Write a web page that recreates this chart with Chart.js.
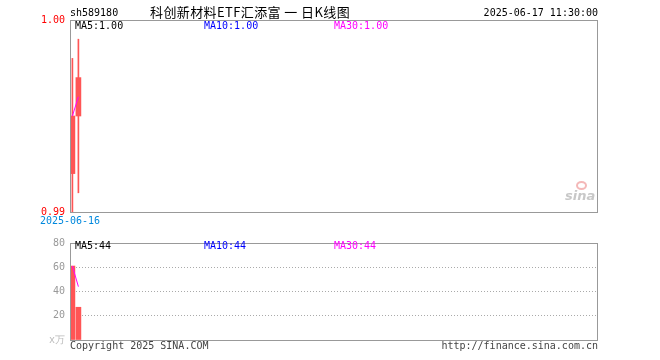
<!DOCTYPE html>
<html><head><meta charset="utf-8">
<script src="https://cdn.jsdelivr.net/npm/chart.js@4/dist/chart.umd.min.js"></script>
<style>
html,body{margin:0;padding:0;background:#fff;width:660px;height:360px;overflow:hidden;}
#wrap{position:relative;width:660px;height:360px;}
canvas{position:absolute;left:0;}
.t{position:absolute;font-family:"DejaVu Sans Mono",monospace;font-size:10px;line-height:12px;white-space:nowrap;}
.cjk{font-family:"Noto Sans CJK SC","DejaVu Sans",sans-serif;font-size:13px;line-height:14px;letter-spacing:0.4px;}
</style></head>
<body><div id="wrap">
<canvas id="c1" width="660" height="232" style="top:0"></canvas>
<canvas id="c2" width="660" height="128" style="top:232px"></canvas>
</div>
<script>
// ---- data ----
const symbol = "sh589180";
const title = "科创新材料ETF汇添富 一 日K线图";
const stamp = "2025-06-17 11:30:00";
const dates = ["2025-06-16", "2025-06-17"];
const opens  = [0.992, 0.995];
const closes = [0.995, 0.997];
const highs  = [0.998, 0.999];
const lows   = [0.990, 0.991];
const volumes = [61, 27];           // 万
const priceMA5 = [0.995, 0.996];
const volMA5 = [61, 44];
const priceTicks = [0.99, 1.00];
const volTicks = [0, 20, 40, 60, 80];
const maPriceLabels = ["MA5:1.00", "MA10:1.00", "MA30:1.00"];
const maVolLabels = ["MA5:44", "MA10:44", "MA30:44"];
const slots = 88;

const RED = "#ff5555";
const MONO = '"DejaVu Sans Mono", monospace';

const borderPlugin = {
  id: 'box',
  afterDraw(chart) {
    const a = chart.chartArea, ctx = chart.ctx;
    ctx.save();
    ctx.strokeStyle = '#999';
    ctx.lineWidth = 1;
    ctx.strokeRect(Math.round(a.left) + 0.5, Math.round(a.top) + 0.5,
                   Math.round(a.right - a.left) - 1, Math.round(a.bottom - a.top));
    ctx.restore();
  }
};

const xScaleBase = {
  type: 'linear', min: -0.4, max: slots - 0.4, offset: false,
  grid: { display: false, drawTicks: false }, border: { display: false }
};

// price chart
new Chart(document.getElementById('c1'), {
  type: 'bar',
  data: {
    datasets: [
      { type: 'line', data: priceMA5.map((v, i) => ({ x: i, y: v })), borderColor: '#ff00ff',
        borderWidth: 1, pointRadius: 0, order: 0 },
      { data: dates.map((d, i) => ({ x: i, y: [opens[i], closes[i]] })), backgroundColor: RED,
        barThickness: 5, grouped: false, order: 2 },
      { data: dates.map((d, i) => ({ x: i, y: [lows[i], highs[i]] })), backgroundColor: RED,
        barThickness: 1, grouped: false, order: 3 }
    ]
  },
  options: {
    responsive: false, animation: false,
    layout: { padding: { top: 20, right: 62, left: 0, bottom: 0 } },
    plugins: { legend: { display: false }, tooltip: { enabled: false } },
    scales: {
      x: Object.assign({}, xScaleBase, {
        afterBuildTicks(s) { s.ticks = [{ value: s.min }]; },
        afterFit(s) { s.height = 20; },
        ticks: { color: '#0088dd', font: { family: MONO, size: 10 }, padding: 3, maxRotation: 0,
                 callback: () => dates[0] }
      }),
      y: {
        min: priceTicks[0], max: priceTicks[priceTicks.length - 1],
        afterBuildTicks(s) { s.ticks = priceTicks.map(v => ({ value: v })); },
        afterFit(s) { s.width = 70; },
        grid: { display: false, drawTicks: false }, border: { display: false },
        ticks: { color: '#ff0000', font: { family: MONO, size: 10 }, padding: 5,
                 callback: v => Number(v).toFixed(2) }
      }
    }
  },
  plugins: [borderPlugin]
});

// volume chart
new Chart(document.getElementById('c2'), {
  type: 'bar',
  data: {
    datasets: [
      { type: 'line', data: volMA5.map((v, i) => ({ x: i, y: v })), borderColor: '#ff00ff',
        borderWidth: 1, pointRadius: 0, order: 0 },
      { data: volumes.map((v, i) => ({ x: i, y: v })), backgroundColor: RED,
        barThickness: 5, grouped: false, order: 2 }
    ]
  },
  options: {
    responsive: false, animation: false,
    layout: { padding: { top: 8, right: 62, left: 0, bottom: 20 } },
    plugins: { legend: { display: false }, tooltip: { enabled: false } },
    scales: {
      x: Object.assign({}, xScaleBase, { display: false }),
      y: {
        min: 0, max: 80,
        afterBuildTicks(s) { s.ticks = volTicks.map(v => ({ value: v })); },
        afterFit(s) { s.width = 70; },
        grid: { drawTicks: false,
                color: c => (c.tick && (c.tick.value === 0 || c.tick.value === 80)) ? 'rgba(0,0,0,0)' : '#aaa' },
        border: { display: false, dash: [1, 2] },
        ticks: { font: { family: MONO, size: 10 }, padding: 5,
                 color: c => c.tick && c.tick.value === 0 ? '#bbb' : '#999',
                 callback: v => v === 0 ? 'x万' : String(v) }
      }
    }
  },
  plugins: [borderPlugin]
});

// texts
const wrap = document.getElementById('wrap');
function addText(txt, x, y, color, cls, align) {
  const d = document.createElement('div');
  d.className = 't' + (cls ? ' ' + cls : '');
  d.textContent = txt;
  d.style.top = y + 'px';
  d.style.color = color;
  if (align === 'right') d.style.right = (660 - x) + 'px'; else d.style.left = x + 'px';
  wrap.appendChild(d);
}
addText(symbol, 70, 7, '#000');
addText(title, 150, 5, '#000', 'cjk');
addText(stamp, 598, 7, '#000', '', 'right');
const maColors = ['#000', '#0000ff', '#ff00ff'];
const maX = [75, 204, 334];
maPriceLabels.forEach((l, i) => addText(l, maX[i], 20, maColors[i]));
maVolLabels.forEach((l, i) => addText(l, maX[i], 240, maColors[i]));
addText('Copyright 2025 SINA.COM', 70, 340, '#444');
addText('http://finance.sina.com.cn', 598, 340, '#444', '', 'right');
const eye = document.createElement('div');
eye.style.cssText = 'position:absolute;left:576px;top:181px;width:11px;height:9px;border-radius:50%;border:2px solid #f4b8b8;box-sizing:border-box;';
wrap.appendChild(eye);
const logo = document.createElement('div');
logo.textContent = 'sina';
logo.style.cssText = 'position:absolute;left:565px;top:188px;font:italic bold 13px "DejaVu Sans",sans-serif;color:#c8c8c8;';
wrap.appendChild(logo);
</script>
</body></html>
